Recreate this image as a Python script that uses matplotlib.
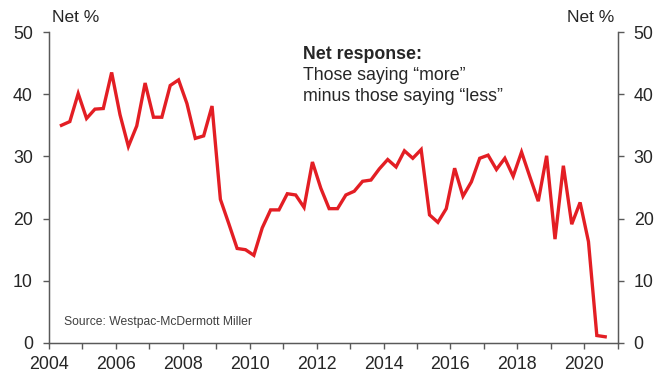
import matplotlib
matplotlib.use("Agg")
import matplotlib.pyplot as plt
import numpy as np

plt.rcParams['font.family'] = ['Liberation Sans', 'DejaVu Sans']

start_year = 2004.375
values = [35.0, 35.6, 40.1, 36.1, 37.6, 37.7, 43.5, 36.7, 31.6, 34.9,
          41.8, 36.3, 36.3, 41.4, 42.3, 38.5, 32.9, 33.3, 38.1, 23.1,
          19.2, 15.2, 15.0, 14.1, 18.5, 21.4, 21.4, 24.0, 23.8, 21.8,
          29.1, 24.9, 21.6, 21.6, 23.8, 24.4, 26.0, 26.2, 28.0, 29.5,
          28.3, 30.9, 29.7, 31.1, 20.6, 19.4, 21.6, 28.1, 23.6, 25.9,
          29.7, 30.2, 27.9, 29.7, 26.8, 30.7, 26.7, 22.8, 30.1, 16.7,
          28.5, 19.1, 22.6, 16.3, 1.2, 1.0]
dates = start_year + 0.25 * np.arange(len(values))
year_ticks = list(range(2004, 2021, 2))
y_ticks = [0, 10, 20, 30, 40, 50]

gray = '#595959'
txt = '#262626'

fig = plt.figure(figsize=(6.7, 3.78), dpi=100)
ax = fig.add_axes([0.073, 0.0926, 0.849, 0.8227])
ax.plot(dates, values, color='#e31e24', lw=2.4, solid_joinstyle='miter')

ax.set_xlim(2004, 2021)
ax.set_ylim(0, 50)
ax.set_xticks(year_ticks)
ax.set_xticks(range(2004, 2022), minor=True)
ax.set_yticks(y_ticks)
ax.spines['top'].set_visible(False)
for s in ['left', 'right', 'bottom']:
    ax.spines[s].set_color(gray)
    ax.spines[s].set_linewidth(1.0)
ax.tick_params(axis='both', which='both', direction='out', color=gray, length=4.5, width=1.0,
               labelsize=12.8, labelcolor=txt)
ax.tick_params(axis='y', pad=7)
ax.tick_params(axis='x', pad=5)

ax2 = ax.twinx()
ax2.set_ylim(0, 50)
ax2.set_yticks(y_ticks)
ax2.spines['top'].set_visible(False)
for s in ['left', 'right', 'bottom']:
    ax2.spines[s].set_color(gray)
ax2.tick_params(axis='y', direction='out', color=gray, length=4.5, width=1.0,
                labelsize=12.8, labelcolor=txt, pad=7)

fig.text(0.0776, 0.9426, 'Net %', fontsize=12.5, color=txt, va='baseline', ha='left')
fig.text(0.917, 0.9426, 'Net %', fontsize=12.5, color=txt, va='baseline', ha='right')

ax.text(0.446, 0.913, 'Net response:', transform=ax.transAxes, fontsize=12.8,
        fontweight='bold', color=txt, va='baseline', ha='left')
ax.text(0.446, 0.846, 'Those saying \u201cmore\u201d', transform=ax.transAxes, fontsize=12.8,
        color=txt, va='baseline', ha='left')
ax.text(0.446, 0.778, 'minus those saying \u201cless\u201d', transform=ax.transAxes, fontsize=12.8,
        color=txt, va='baseline', ha='left')
ax.text(0.027, 0.068, 'Source: Westpac-McDermott Miller', transform=ax.transAxes,
        fontsize=8.7, color='#404040', va='center', ha='left')

fig.savefig('out.png', dpi=100)
